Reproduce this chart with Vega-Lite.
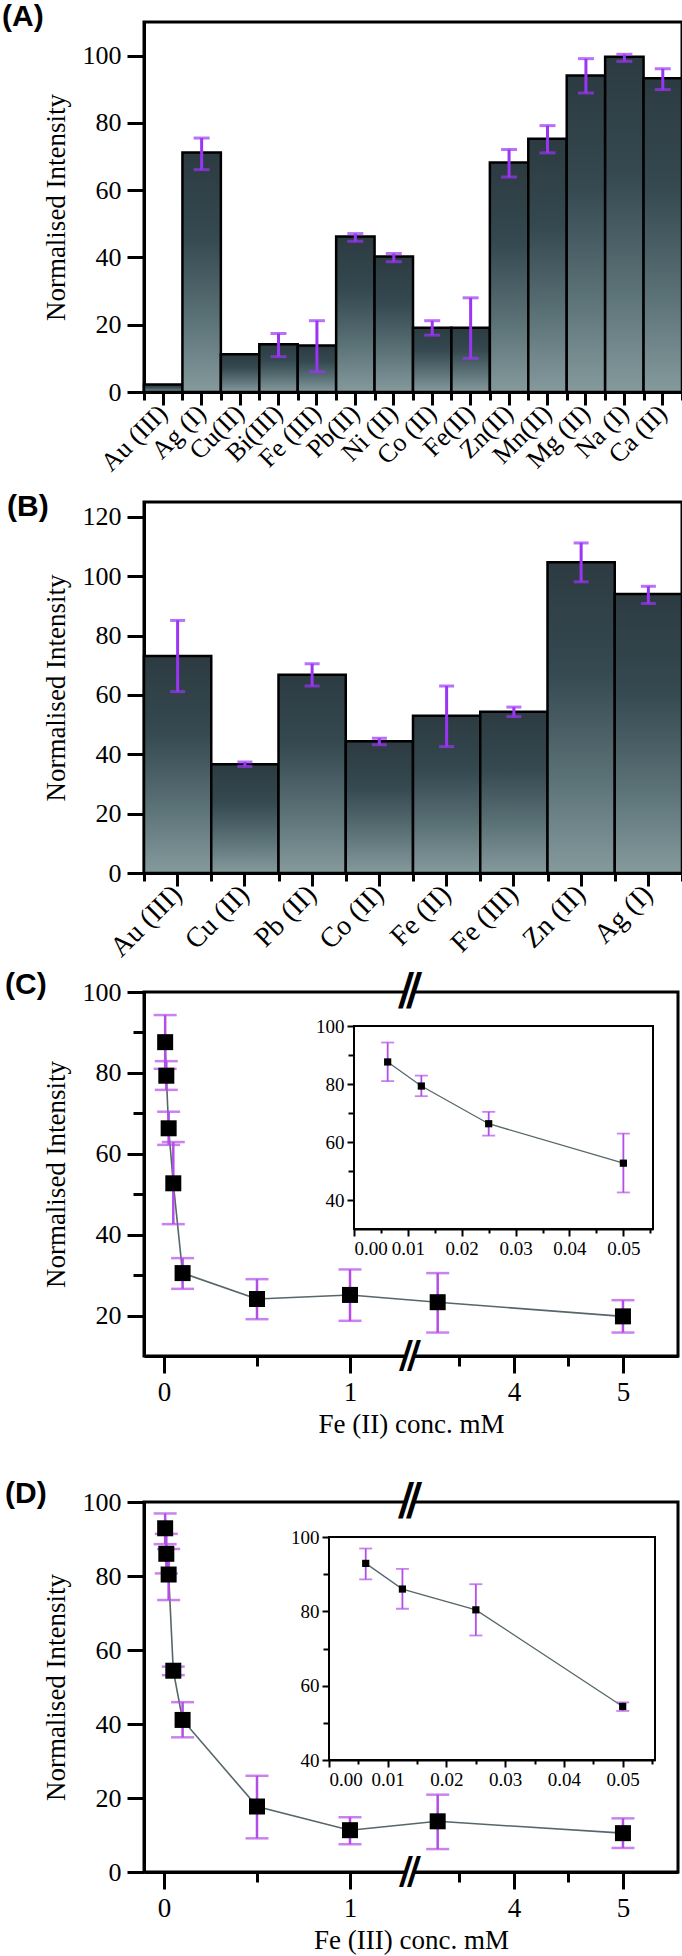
{
  "$schema": "https://vega.github.io/schema/vega-lite/v6.json",
  "padding": {"left": 0, "top": 0, "right": 0, "bottom": 0},
  "background": "white",
  "config": {
    "view": {"stroke": "black", "strokeWidth": 3},
    "axis": {
      "domainColor": "black", "domainWidth": 3, "tickColor": "black", "tickWidth": 3,
      "labelFont": "Liberation Serif", "labelFontSize": 26, "labelColor": "black",
      "titleFont": "Liberation Serif", "titleFontSize": 27, "titleFontWeight": "normal", "titleColor": "black",
      "grid": false
    },
    "title": {"font": "Liberation Sans", "fontSize": 30, "fontWeight": "bold", "color": "black", "anchor": "start", "frame": "group", "orient": "top", "offset": 0, "baseline": "alphabetic"}
  },
  "spacing": 0,
  "bounds": "flush",
  "vconcat": [
    {
      "title": {"text": "(A)", "dy": 14, "dx": -142},
      "width": 538, "height": 370,
      "data": {"values": [
        {"ion": "Au (III)", "v": 2.2},
        {"ion": "Ag (I)", "v": 71.2, "lo": 66.1, "hi": 75.5},
        {"ion": "Cu(II)", "v": 11.2},
        {"ion": "Bi(III)", "v": 14.2, "lo": 10.5, "hi": 17.4},
        {"ion": "Fe (III)", "v": 13.8, "lo": 6.0, "hi": 21.2},
        {"ion": "Pb(II)", "v": 46.2, "lo": 44.8, "hi": 47.1},
        {"ion": "Ni (II)", "v": 40.3, "lo": 38.7, "hi": 41.2},
        {"ion": "Co (II)", "v": 19.1, "lo": 16.9, "hi": 21.2},
        {"ion": "Fe(II)", "v": 19.1, "lo": 10.0, "hi": 28.0},
        {"ion": "Zn(II)", "v": 68.2, "lo": 63.9, "hi": 72.1},
        {"ion": "Mn(II)", "v": 75.3, "lo": 71.1, "hi": 79.2},
        {"ion": "Mg (II)", "v": 94.1, "lo": 88.9, "hi": 99.1},
        {"ion": "Na (I)", "v": 99.7, "lo": 98.3, "hi": 100.4},
        {"ion": "Ca (II)", "v": 93.3, "lo": 89.9, "hi": 96.1}
      ]},
      "resolve": {"scale": {"x": "independent"}},
      "layer": [
        {
          "encoding": {
            "x": {"field": "ion", "type": "nominal", "sort": null,
              "scale": {"paddingInner": 0, "paddingOuter": 0},
              "axis": {"title": null, "labelAngle": -45, "labelAlign": "right", "labelBaseline": "middle", "tickSize": 13, "labelPadding": 4, "labelFontSize": 26}}
          },
          "layer": [
            {
              "mark": {"type": "bar", "stroke": "black", "strokeWidth": 2.5,
                "color": {"gradient": "linear", "x1": 0, "x2": 0, "y1": 0, "y2": 1, "stops": [
                  {"offset": 0, "color": "#2c3b41"}, {"offset": 0.35, "color": "#354950"},
                  {"offset": 0.7, "color": "#5b7277"}, {"offset": 1, "color": "#859a9d"}]}},
              "encoding": {
                "y": {"field": "v", "type": "quantitative", "title": "Normalised Intensity",
                  "scale": {"domain": [0, 110], "nice": false},
                  "axis": {"values": [0, 10, 20, 30, 40, 50, 60, 70, 80, 90, 100],
                    "labelExpr": "datum.value % 20 === 0 ? datum.label : ''",
                    "tickSize": {"condition": {"test": "datum.value % 20 === 0", "value": 17}, "value": 11},
                    "labelPadding": 6, "titlePadding": 12}}
              }
            },
            {
              "mark": {"type": "errorbar", "color": "#9a35f5", "thickness": 3, "ticks": {"size": 16, "thickness": 3, "color": "#9a35f5"}, "rule": {"color": "#9a35f5", "strokeWidth": 3}},
              "encoding": {
                "y": {"field": "lo", "type": "quantitative", "title": "Normalised Intensity"},
                "y2": {"field": "hi"}
              }
            }
          ]
        },
        {
          "mark": {"type": "bar", "opacity": 0},
          "encoding": {
            "x": {"field": "ion", "type": "nominal", "sort": null,
              "scale": {"paddingInner": 0, "paddingOuter": 0},
              "axis": {"orient": "bottom", "title": null, "labels": false, "domain": false, "tickBand": "extent", "tickSize": 8}},
            "y": {"field": "v", "type": "quantitative", "title": "Normalised Intensity"}
          }
        }
      ]
    },
    {
      "width": 538, "height": 110,
      "view": {"stroke": null, "fill": null},
      "data": {"values": [{}]},
      "mark": {"type": "point", "opacity": 0, "size": 0},
      "encoding": {}
    },
    {
      "title": {"text": "(B)", "dy": 24, "dx": -137},
      "width": 538, "height": 371,
      "data": {"values": [
        {"ion": "Au (III)", "v": 73.1, "lo": 61.1, "hi": 85.1},
        {"ion": "Cu (II)", "v": 36.6, "lo": 35.9, "hi": 37.4},
        {"ion": "Pb (II)", "v": 66.8, "lo": 63.0, "hi": 70.5},
        {"ion": "Co (II)", "v": 44.4, "lo": 43.2, "hi": 45.4},
        {"ion": "Fe (II)", "v": 53.0, "lo": 42.6, "hi": 63.0},
        {"ion": "Fe (III)", "v": 54.3, "lo": 52.7, "hi": 55.9},
        {"ion": "Zn (II)", "v": 104.7, "lo": 98.1, "hi": 111.2},
        {"ion": "Ag (I)", "v": 94.0, "lo": 90.8, "hi": 96.6}
      ]},
      "resolve": {"scale": {"x": "independent"}},
      "layer": [
        {
          "encoding": {
            "x": {"field": "ion", "type": "nominal", "sort": null,
              "scale": {"paddingInner": 0, "paddingOuter": 0},
              "axis": {"title": null, "labelAngle": -45, "labelAlign": "right", "labelBaseline": "middle", "tickSize": 13, "labelPadding": 4, "labelFontSize": 28}}
          },
          "layer": [
            {
              "mark": {"type": "bar", "stroke": "black", "strokeWidth": 2.5,
                "color": {"gradient": "linear", "x1": 0, "x2": 0, "y1": 0, "y2": 1, "stops": [
                  {"offset": 0, "color": "#2c3b41"}, {"offset": 0.35, "color": "#354950"},
                  {"offset": 0.7, "color": "#5b7277"}, {"offset": 1, "color": "#859a9d"}]}},
              "encoding": {
                "y": {"field": "v", "type": "quantitative", "title": "Normalised Intensity",
                  "scale": {"domain": [0, 125], "nice": false},
                  "axis": {"values": [0, 10, 20, 30, 40, 50, 60, 70, 80, 90, 100, 110, 120],
                    "labelExpr": "datum.value % 20 === 0 ? datum.label : ''",
                    "tickSize": {"condition": {"test": "datum.value % 20 === 0", "value": 17}, "value": 11},
                    "labelPadding": 6, "titlePadding": 12}}
              }
            },
            {
              "mark": {"type": "errorbar", "color": "#9a35f5", "thickness": 3, "ticks": {"size": 15, "thickness": 3, "color": "#9a35f5"}, "rule": {"color": "#9a35f5", "strokeWidth": 3}},
              "encoding": {
                "y": {"field": "lo", "type": "quantitative", "title": "Normalised Intensity"},
                "y2": {"field": "hi"}
              }
            }
          ]
        },
        {
          "mark": {"type": "bar", "opacity": 0},
          "encoding": {
            "x": {"field": "ion", "type": "nominal", "sort": null,
              "scale": {"paddingInner": 0, "paddingOuter": 0},
              "axis": {"orient": "bottom", "title": null, "labels": false, "domain": false, "tickBand": "extent", "tickSize": 8}},
            "y": {"field": "v", "type": "quantitative", "title": "Normalised Intensity"}
          }
        }
      ]
    },
    {
      "width": 538, "height": 119,
      "view": {"stroke": null, "fill": null},
      "data": {"values": [{}]},
      "mark": {"type": "point", "opacity": 0, "size": 0},
      "encoding": {}
    },
    {
      "title": {"text": "(C)", "dy": 34, "dx": -139},
      "width": 534, "height": 364,
      "data": {"values": [
        {"x": 0.00625, "v": 87.6, "lo": 81.0, "hi": 94.3},
        {"x": 0.0125, "v": 79.3, "lo": 75.8, "hi": 82.9},
        {"x": 0.025, "v": 66.3, "lo": 62.2, "hi": 70.4},
        {"x": 0.05, "v": 52.7, "lo": 42.6, "hi": 62.9},
        {"x": 0.1, "v": 30.5, "lo": 26.6, "hi": 34.2},
        {"x": 0.5, "v": 24.1, "lo": 19.1, "hi": 29.0},
        {"x": 1, "v": 25.1, "lo": 18.7, "hi": 31.4},
        {"x": 3.3, "v": 23.3, "lo": 15.8, "hi": 30.5},
        {"x": 5, "v": 19.8, "lo": 15.8, "hi": 23.8}
      ]},
      "resolve": {"scale": {"x": "independent", "y": "independent"}},
      "layer": [
        {
          "encoding": {
            "x": {"field": "x", "type": "quantitative", "title": "Fe (II) conc. mM",
              "scale": {"domain": [-0.1075, 1.3226, 3.046, 5.505], "range": [0, 266, 266, 534], "nice": false, "zero": false},
              "axis": {"values": [0, 0.5, 1, 3.5, 4, 4.5, 5],
                "labelExpr": "(datum.value === 0 || datum.value === 1 || datum.value === 4 || datum.value === 5) ? '' + datum.value : ''",
                "tickSize": {"condition": {"test": "datum.value === 0 || datum.value === 1 || datum.value === 4 || datum.value === 5", "value": 17}, "value": 10},
                "labelPadding": 6, "titlePadding": 6, "labelFontSize": 27}}
          },
          "layer": [
            {
              "mark": {"type": "line", "color": "#56666a", "strokeWidth": 1.6},
              "encoding": {"y": {"field": "v", "type": "quantitative", "title": "Normalised Intensity",
                "scale": {"domain": [10, 100], "nice": false, "zero": false},
                "axis": {"values": [20, 30, 40, 50, 60, 70, 80, 90, 100],
                  "labelExpr": "datum.value % 20 === 0 ? datum.label : ''",
                  "tickSize": {"condition": {"test": "datum.value % 20 === 0", "value": 17}, "value": 11},
                  "labelPadding": 6, "titlePadding": 12}}}
            },
            {
              "mark": {"type": "errorbar", "color": "#b34de8", "thickness": 2.5, "ticks": {"size": 23, "thickness": 2.5, "color": "#b34de8"}, "rule": {"color": "#b34de8", "strokeWidth": 2.5}},
              "encoding": {"y": {"field": "lo", "type": "quantitative", "title": "Normalised Intensity"}, "y2": {"field": "hi"}}
            },
            {
              "mark": {"type": "point", "shape": "square", "filled": true, "color": "black", "size": 256, "opacity": 1},
              "encoding": {"y": {"field": "v", "type": "quantitative", "title": "Normalised Intensity"}}
            },
            {
              "transform": [{"filter": "datum.x === 5"}],
              "mark": {"type": "point", "shape": "square", "filled": true, "color": "white", "size": 100, "opacity": 1, "strokeWidth": 0},
              "encoding": {"x": {"datum": 2, "type": "quantitative"}, "y": {"datum": 100, "type": "quantitative"}}
            },
            {
              "transform": [{"filter": "datum.x === 5"}],
              "mark": {"type": "point", "shape": "square", "filled": true, "color": "white", "size": 100, "opacity": 1, "strokeWidth": 0},
              "encoding": {"x": {"datum": 2, "type": "quantitative"}, "y": {"datum": 10, "type": "quantitative"}}
            },
            {
              "transform": [{"filter": "datum.x === 5"}],
              "mark": {"type": "text", "text": "/", "font": "DejaVu Sans", "fontWeight": "bold", "fontSize": 44, "color": "black", "align": "center", "baseline": "middle", "dx": -4},
              "encoding": {"x": {"datum": 2, "type": "quantitative"}, "y": {"datum": 100, "type": "quantitative"}}
            },
            {
              "transform": [{"filter": "datum.x === 5"}],
              "mark": {"type": "text", "text": "/", "font": "DejaVu Sans", "fontWeight": "bold", "fontSize": 44, "color": "black", "align": "center", "baseline": "middle", "dx": 4},
              "encoding": {"x": {"datum": 2, "type": "quantitative"}, "y": {"datum": 100, "type": "quantitative"}}
            },
            {
              "transform": [{"filter": "datum.x === 5"}],
              "mark": {"type": "text", "text": "/", "font": "DejaVu Sans", "fontWeight": "bold", "fontSize": 38, "color": "black", "align": "center", "baseline": "middle", "dx": -4},
              "encoding": {"x": {"datum": 2, "type": "quantitative"}, "y": {"datum": 10, "type": "quantitative"}}
            },
            {
              "transform": [{"filter": "datum.x === 5"}],
              "mark": {"type": "text", "text": "/", "font": "DejaVu Sans", "fontWeight": "bold", "fontSize": 38, "color": "black", "align": "center", "baseline": "middle", "dx": 4},
              "encoding": {"x": {"datum": 2, "type": "quantitative"}, "y": {"datum": 10, "type": "quantitative"}}
            }
          ]
        },
        {
          "transform": [{"filter": "datum.x <= 0.05"}],
          "encoding": {
            "x": {"field": "x", "type": "quantitative",
              "scale": {"domain": [0, 0.0555], "range": [210, 509], "nice": false, "zero": false},
              "axis": {"orient": "bottom", "offset": -127, "title": null,
                "values": [0, 0.005, 0.01, 0.015, 0.02, 0.025, 0.03, 0.035, 0.04, 0.045, 0.05, 0.055],
                "labelExpr": "round(datum.value * 1000) % 10 === 0 ? format(datum.value, '.2f') : ''",
                "tickSize": {"condition": {"test": "round(datum.value * 1000) % 10 === 0", "value": 7}, "value": 4},
                "domainWidth": 2, "tickWidth": 2, "labelFontSize": 19, "labelPadding": 3}}
          },
          "layer": [
            {
              "mark": {"type": "rect", "fill": "white", "stroke": "black", "strokeWidth": 2},
              "encoding": {"x": {"datum": 0, "type": "quantitative"}, "x2": {"datum": 0.0555}, "y": {"datum": 30, "type": "quantitative"}, "y2": {"datum": 100}}
            },
            {
              "mark": {"type": "line", "color": "#56666a", "strokeWidth": 1.3},
              "encoding": {"y": {"field": "v", "type": "quantitative",
                "scale": {"domain": [30, 100], "range": [237, 34], "nice": false, "zero": false},
                "axis": {"orient": "left", "offset": -210, "title": null,
                  "values": [40, 50, 60, 70, 80, 90, 100],
                  "labelExpr": "datum.value % 20 === 0 ? datum.label : ''",
                  "tickSize": {"condition": {"test": "datum.value % 20 === 0", "value": 7}, "value": 6},
                  "domainWidth": 2, "tickWidth": 2, "labelFontSize": 19, "labelPadding": 3}}}
            },
            {
              "mark": {"type": "errorbar", "color": "#b34de8", "thickness": 1.8, "ticks": {"size": 13, "thickness": 1.8, "color": "#b34de8"}, "rule": {"color": "#b34de8", "strokeWidth": 1.8}},
              "encoding": {"y": {"field": "lo", "type": "quantitative"}, "y2": {"field": "hi"}}
            },
            {
              "mark": {"type": "point", "shape": "square", "filled": true, "color": "black", "size": 52, "opacity": 1},
              "encoding": {"y": {"field": "v", "type": "quantitative"}}
            }
          ]
        }
      ]
    },
    {
      "width": 538, "height": 146,
      "view": {"stroke": null, "fill": null},
      "data": {"values": [{}]},
      "mark": {"type": "point", "opacity": 0, "size": 0},
      "encoding": {}
    },
    {
      "title": {"text": "(D)", "dy": 33, "dx": -139},
      "width": 534, "height": 370,
      "data": {"values": [
        {"x": 0.00625, "v": 92.9, "lo": 88.6, "hi": 96.9},
        {"x": 0.0125, "v": 86.0, "lo": 80.7, "hi": 91.4},
        {"x": 0.025, "v": 80.4, "lo": 73.5, "hi": 87.3},
        {"x": 0.05, "v": 54.4, "lo": 53.2, "hi": 55.5},
        {"x": 0.1, "v": 41.1, "lo": 36.4, "hi": 45.9},
        {"x": 0.5, "v": 17.7, "lo": 9.1, "hi": 26.0},
        {"x": 1, "v": 11.3, "lo": 7.5, "hi": 14.8},
        {"x": 3.3, "v": 13.7, "lo": 6.2, "hi": 20.9},
        {"x": 5, "v": 10.5, "lo": 6.5, "hi": 14.5}
      ]},
      "resolve": {"scale": {"x": "independent", "y": "independent"}},
      "layer": [
        {
          "encoding": {
            "x": {"field": "x", "type": "quantitative", "title": "Fe (III) conc. mM",
              "scale": {"domain": [-0.1075, 1.3226, 3.046, 5.505], "range": [0, 266, 266, 534], "nice": false, "zero": false},
              "axis": {"values": [0, 0.5, 1, 3.5, 4, 4.5, 5],
                "labelExpr": "(datum.value === 0 || datum.value === 1 || datum.value === 4 || datum.value === 5) ? '' + datum.value : ''",
                "tickSize": {"condition": {"test": "datum.value === 0 || datum.value === 1 || datum.value === 4 || datum.value === 5", "value": 17}, "value": 10},
                "labelPadding": 6, "titlePadding": 6, "labelFontSize": 27}}
          },
          "layer": [
            {
              "mark": {"type": "line", "color": "#56666a", "strokeWidth": 1.6},
              "encoding": {"y": {"field": "v", "type": "quantitative", "title": "Normalised Intensity",
                "scale": {"domain": [0, 100], "nice": false, "zero": false},
                "axis": {"values": [0, 10, 20, 30, 40, 50, 60, 70, 80, 90, 100],
                  "labelExpr": "datum.value % 20 === 0 ? datum.label : ''",
                  "tickSize": {"condition": {"test": "datum.value % 20 === 0", "value": 17}, "value": 11},
                  "labelPadding": 6, "titlePadding": 12}}}
            },
            {
              "mark": {"type": "errorbar", "color": "#b34de8", "thickness": 2.5, "ticks": {"size": 23, "thickness": 2.5, "color": "#b34de8"}, "rule": {"color": "#b34de8", "strokeWidth": 2.5}},
              "encoding": {"y": {"field": "lo", "type": "quantitative", "title": "Normalised Intensity"}, "y2": {"field": "hi"}}
            },
            {
              "mark": {"type": "point", "shape": "square", "filled": true, "color": "black", "size": 256, "opacity": 1},
              "encoding": {"y": {"field": "v", "type": "quantitative", "title": "Normalised Intensity"}}
            },
            {
              "transform": [{"filter": "datum.x === 5"}],
              "mark": {"type": "point", "shape": "square", "filled": true, "color": "white", "size": 100, "opacity": 1, "strokeWidth": 0},
              "encoding": {"x": {"datum": 2, "type": "quantitative"}, "y": {"datum": 100, "type": "quantitative"}}
            },
            {
              "transform": [{"filter": "datum.x === 5"}],
              "mark": {"type": "point", "shape": "square", "filled": true, "color": "white", "size": 100, "opacity": 1, "strokeWidth": 0},
              "encoding": {"x": {"datum": 2, "type": "quantitative"}, "y": {"datum": 0, "type": "quantitative"}}
            },
            {
              "transform": [{"filter": "datum.x === 5"}],
              "mark": {"type": "text", "text": "/", "font": "DejaVu Sans", "fontWeight": "bold", "fontSize": 44, "color": "black", "align": "center", "baseline": "middle", "dx": -4},
              "encoding": {"x": {"datum": 2, "type": "quantitative"}, "y": {"datum": 100, "type": "quantitative"}}
            },
            {
              "transform": [{"filter": "datum.x === 5"}],
              "mark": {"type": "text", "text": "/", "font": "DejaVu Sans", "fontWeight": "bold", "fontSize": 44, "color": "black", "align": "center", "baseline": "middle", "dx": 4},
              "encoding": {"x": {"datum": 2, "type": "quantitative"}, "y": {"datum": 100, "type": "quantitative"}}
            },
            {
              "transform": [{"filter": "datum.x === 5"}],
              "mark": {"type": "text", "text": "/", "font": "DejaVu Sans", "fontWeight": "bold", "fontSize": 38, "color": "black", "align": "center", "baseline": "middle", "dx": -4},
              "encoding": {"x": {"datum": 2, "type": "quantitative"}, "y": {"datum": 0, "type": "quantitative"}}
            },
            {
              "transform": [{"filter": "datum.x === 5"}],
              "mark": {"type": "text", "text": "/", "font": "DejaVu Sans", "fontWeight": "bold", "fontSize": 38, "color": "black", "align": "center", "baseline": "middle", "dx": 4},
              "encoding": {"x": {"datum": 2, "type": "quantitative"}, "y": {"datum": 0, "type": "quantitative"}}
            }
          ]
        },
        {
          "transform": [{"filter": "datum.x <= 0.05"}],
          "encoding": {
            "x": {"field": "x", "type": "quantitative",
              "scale": {"domain": [0, 0.0555], "range": [185, 511], "nice": false, "zero": false},
              "axis": {"orient": "bottom", "offset": -112, "title": null,
                "values": [0, 0.005, 0.01, 0.015, 0.02, 0.025, 0.03, 0.035, 0.04, 0.045, 0.05, 0.055],
                "labelExpr": "round(datum.value * 1000) % 10 === 0 ? format(datum.value, '.2f') : ''",
                "tickSize": {"condition": {"test": "round(datum.value * 1000) % 10 === 0", "value": 7}, "value": 4},
                "domainWidth": 2, "tickWidth": 2, "labelFontSize": 19, "labelPadding": 3}}
          },
          "layer": [
            {
              "mark": {"type": "rect", "fill": "white", "stroke": "black", "strokeWidth": 2},
              "encoding": {"x": {"datum": 0, "type": "quantitative"}, "x2": {"datum": 0.0555}, "y": {"datum": 40, "type": "quantitative"}, "y2": {"datum": 100}}
            },
            {
              "mark": {"type": "line", "color": "#56666a", "strokeWidth": 1.3},
              "encoding": {"y": {"field": "v", "type": "quantitative",
                "scale": {"domain": [40, 100], "range": [258, 35], "nice": false, "zero": false},
                "axis": {"orient": "left", "offset": -185, "title": null,
                  "values": [40, 50, 60, 70, 80, 90, 100],
                  "labelExpr": "datum.value % 20 === 0 ? datum.label : ''",
                  "tickSize": {"condition": {"test": "datum.value % 20 === 0", "value": 7}, "value": 6},
                  "domainWidth": 2, "tickWidth": 2, "labelFontSize": 19, "labelPadding": 3}}}
            },
            {
              "mark": {"type": "errorbar", "color": "#b34de8", "thickness": 1.8, "ticks": {"size": 13, "thickness": 1.8, "color": "#b34de8"}, "rule": {"color": "#b34de8", "strokeWidth": 1.8}},
              "encoding": {"y": {"field": "lo", "type": "quantitative"}, "y2": {"field": "hi"}}
            },
            {
              "mark": {"type": "point", "shape": "square", "filled": true, "color": "black", "size": 52, "opacity": 1},
              "encoding": {"y": {"field": "v", "type": "quantitative"}}
            }
          ]
        }
      ]
    }
  ]
}
